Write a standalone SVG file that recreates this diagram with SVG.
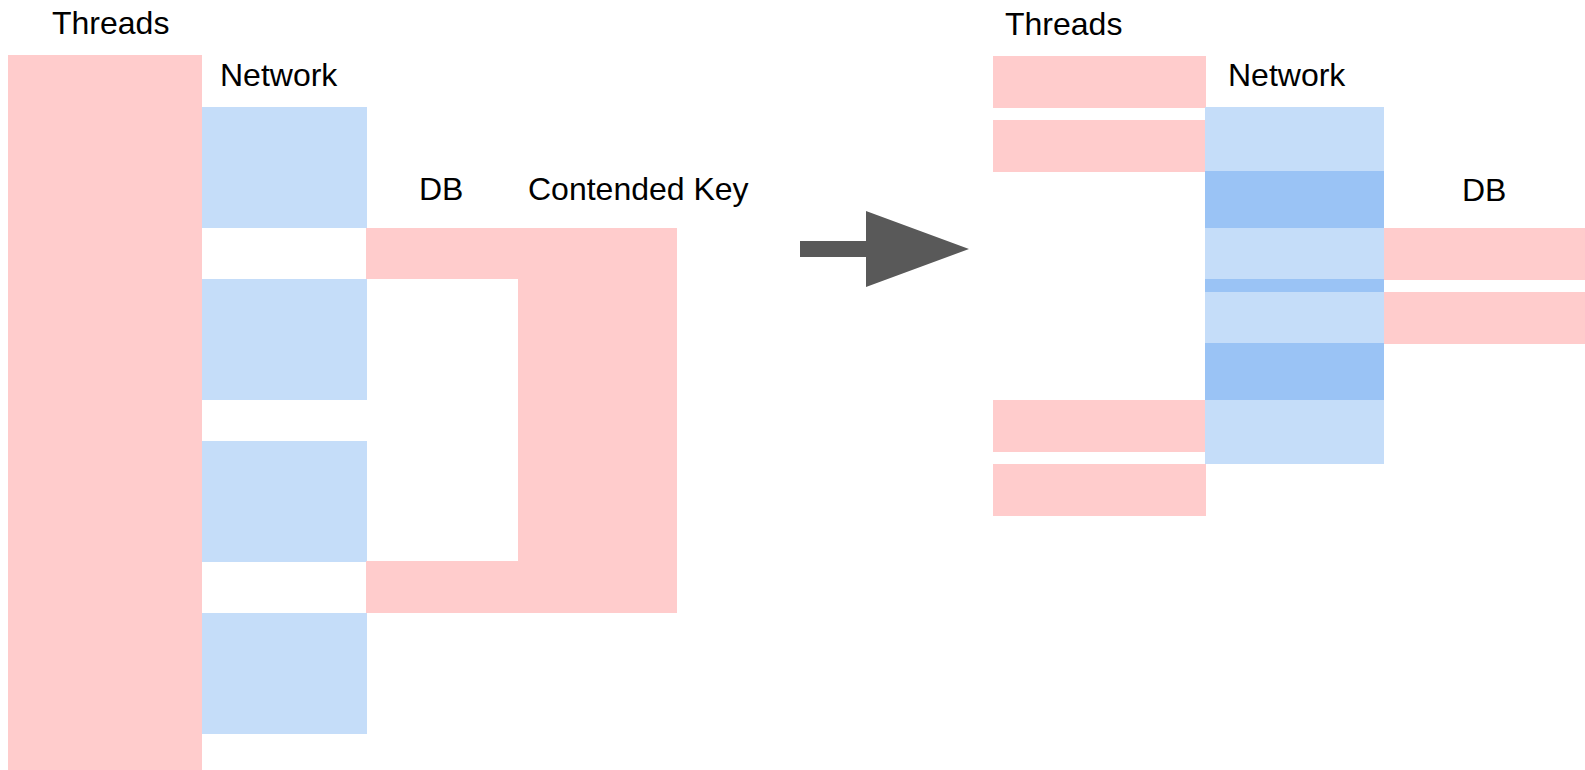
<svg xmlns="http://www.w3.org/2000/svg" width="1585" height="770" viewBox="0 0 1585 770">
  <style>
    .lbl { font-family: "Liberation Sans", Arial, sans-serif; font-size: 32px; fill: #000000; }
    .thread { fill: #ffcccc; }
    .net { fill: #c5ddf9; }
    .netbusy { fill: #9ac3f5; }
    .db { fill: #ffcccc; }
    .arrow { fill: #595959; }
  </style>
  <rect width="1585" height="770" fill="#ffffff"/>

  <!-- Before: one thread per request, blocked on network and DB -->
  <g id="before-threads">
    <text class="lbl" x="52" y="34">Threads</text>
    <rect class="thread" x="8" y="55" width="194" height="715"/>
  </g>
  <g id="before-network">
    <text class="lbl" x="220" y="86">Network</text>
    <rect class="net" x="202" y="107" width="165" height="121"/>
    <rect class="net" x="202" y="279" width="165" height="121"/>
    <rect class="net" x="202" y="441" width="165" height="121"/>
    <rect class="net" x="202" y="613" width="165" height="121"/>
  </g>
  <g id="before-db">
    <text class="lbl" x="419" y="200">DB</text>
    <rect class="db" x="366" y="228" width="153" height="51"/>
    <rect class="db" x="366" y="561" width="153" height="52"/>
  </g>
  <g id="before-contended-key">
    <text class="lbl" x="528" y="200">Contended Key</text>
    <rect class="db" x="518" y="228" width="159" height="385"/>
  </g>

  <!-- Transition arrow -->
  <g id="connectors">
    <polygon class="arrow" points="800,241 866,241 866,211 969,249 866,287 866,257 800,257"/>
  </g>

  <!-- After: short thread slices, multiplexed network, DB -->
  <g id="after-threads">
    <text class="lbl" x="1005" y="35">Threads</text>
    <rect class="thread" x="993" y="56" width="213" height="52"/>
    <rect class="thread" x="993" y="120" width="213" height="52"/>
    <rect class="thread" x="993" y="400" width="213" height="52"/>
    <rect class="thread" x="993" y="464" width="213" height="52"/>
  </g>
  <g id="after-network">
    <text class="lbl" x="1228" y="86">Network</text>
    <rect class="net" x="1205" y="107" width="179" height="64"/>
    <rect class="netbusy" x="1205" y="171" width="179" height="57"/>
    <rect class="net" x="1205" y="228" width="179" height="51"/>
    <rect class="netbusy" x="1205" y="279" width="179" height="13"/>
    <rect class="net" x="1205" y="292" width="179" height="51"/>
    <rect class="netbusy" x="1205" y="343" width="179" height="57"/>
    <rect class="net" x="1205" y="400" width="179" height="64"/>
  </g>
  <g id="after-db">
    <text class="lbl" x="1462" y="201">DB</text>
    <rect class="db" x="1384" y="228" width="201" height="52"/>
    <rect class="db" x="1384" y="292" width="201" height="52"/>
  </g>
</svg>
